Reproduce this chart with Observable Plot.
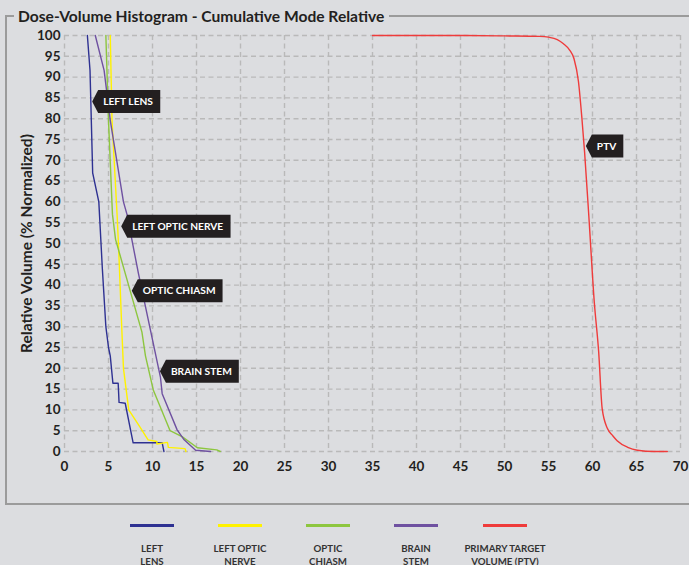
<!DOCTYPE html>
<html>
<head>
<meta charset="utf-8">
<script src="https://cdn.jsdelivr.net/npm/d3@7"></script>
<script src="https://cdn.jsdelivr.net/npm/@observablehq/plot@0.6"></script>
<style>
  html, body { margin: 0; padding: 0; background: #dcdde0; }
  #wrap { position: relative; width: 689px; height: 565px; overflow: hidden; background: #dcdde0; font-family: Lato, "Open Sans", sans-serif; color: #231f20; }
  #frame { position: absolute; left: 5px; top: 15px; width: 720px; height: 490px; border: 2px solid #9b9b9b; border-right: none; box-sizing: border-box; }
  #title { position: absolute; left: 14px; top: 6px; padding: 0 5px 0 4px; background: #dcdde0; font-weight: 700; font-size: 15.6px; line-height: 20px; white-space: nowrap; }
  #chart { position: absolute; left: 0; top: 0; }
  .lg { position: absolute; top: 524px; width: 120px; text-align: center; }
  .lg .sw { width: 44px; height: 3px; margin: 0 auto; }
  .lg .tx { margin-top: 15px; font-size: 9.7px; font-weight: 700; line-height: 12.5px; color: #333; }
</style>
</head>
<body>
<div id="wrap">
  <div id="frame"></div>
  <div id="chart"></div>
  <div id="title"></div>
</div>
<script>
const titleText = "Dose-Volume Histogram - Cumulative Mode Relative";
const yLabel = "Relative Volume (% Normalized)";
const xTicks = [0, 5, 10, 15, 20, 25, 30, 35, 40, 45, 50, 55, 60, 65, 70];
const yTicks = [0, 5, 10, 15, 20, 25, 30, 35, 40, 45, 50, 55, 60, 65, 70, 75, 80, 85, 90, 95, 100];

const seriesNames = ["LEFT LENS", "LEFT OPTIC NERVE", "OPTIC CHIASM", "BRAIN STEM", "PRIMARY TARGET VOLUME (PTV)"];
const legendLines = [["LEFT", "LENS"], ["LEFT OPTIC", "NERVE"], ["OPTIC", "CHIASM"], ["BRAIN", "STEM"], ["PRIMARY TARGET", "VOLUME (PTV)"]];
const seriesColors = ["#2e3192", "#fff200", "#8dc63f", "#6f51a1", "#ef3b3b"];

// [dose, volume] pairs
const leftLens = [[2.6,100],[2.9,91.6],[3.2,67],[3.9,60],[4.3,44],[4.7,30],[5.0,25],[5.2,23],[5.5,16.4],[6.1,16.4],[6.2,11.8],[6.9,11.6],[7.8,2.1],[11.1,2.1],[11.3,0]];
const leftOpticNerve = [[5.2,100],[5.4,79.6],[6.0,56],[6.2,46.4],[6.5,30],[6.7,20],[7.3,10],[8.6,5.8],[9.5,2.8],[10.5,2.4],[10.5,1.8],[11.7,2.2],[11.8,1.0],[13.7,0.7],[13.8,0]];
const opticChiasm = [[4.7,100],[5.0,79.6],[5.45,57],[5.8,51],[8.8,28.7],[9.2,23],[10.1,14.7],[12.0,5],[13.4,3.5],[15.1,0.9],[17.3,0.4],[17.7,0]];
const brainStem = [[3.5,100],[4.5,91.6],[5.2,79.6],[6.7,60],[7.1,57],[8.4,42.8],[10.9,17.9],[11.1,13.9],[12.8,5.2],[13.6,2.8],[14.9,0.3],[16.6,0]];
const ptv = [[35,100],[45,100],[50,99.9],[54,99.8],[55,99.6],[56,99],[56.7,98],[57.4,96.5],[57.9,94.4],[58.4,89],[58.8,80],[59.1,72],[59.6,56],[60.2,36],[60.7,24],[61.1,10.3],[61.7,5.5],[62.3,3.8],[62.8,2.6],[64,1],[65.1,0.3],[67,0],[68.5,0]];

// callout labels: text and the data point they point at
const calloutText = ["LEFT LENS", "LEFT OPTIC NERVE", "OPTIC CHIASM", "BRAIN STEM", "PTV"];
const calloutX = [3.2, 6.5, 7.7, 10.9, 59.3];
const calloutY = [84, 54, 38.5, 19.2, 73.3];

const allSeries = [leftLens, leftOpticNerve, opticChiasm, brainStem, ptv];

document.getElementById("title").textContent = titleText;

const ctx = document.createElement("canvas").getContext("2d");
const calloutFont = "bold 10.2px Lato";
ctx.font = calloutFont;

function callouts(index, scales) {
  const g = d3.create("svg:g").attr("text-anchor", "start");
  calloutText.forEach((t, i) => {
    const x0 = scales.x(calloutX[i]), y0 = scales.y(calloutY[i]);
    const a = 6, h = 23, tw = ctx.measureText(t).width;
    const w = tw + 12;
    g.append("path")
      .attr("d", `M${x0},${y0}l${a},${-h / 2}h${w}v${h}h${-w}z`)
      .attr("fill", "#231f20");
    g.append("text")
      .attr("x", x0 + a + 5)
      .attr("y", y0)
      .attr("dy", "0.35em")
      .attr("text-anchor", "start")
      .attr("fill", "#ffffff")
      .style("font", calloutFont)
      .text(t);
  });
  return g.node();
}

const lineMarks = allSeries.map((s, i) =>
  Plot.line(s, {
    x: d => d[0], y: d => d[1],
    stroke: seriesColors[i], strokeWidth: 1.4,
    curve: i === 4 ? "monotone-x" : "linear"
  })
);

const chart = Plot.plot({
  width: 689,
  height: 500,
  marginLeft: 64,
  marginRight: 9,
  marginTop: 35,
  marginBottom: 49,
  style: { background: "transparent", fontFamily: "Lato, sans-serif", fontWeight: 700, fontSize: "13.5px", color: "#231f20" },
  x: { domain: [0, 70], ticks: xTicks, tickSize: 0, tickPadding: 10, label: null, tickFormat: d => String(d) },
  y: { domain: [0, 100], ticks: yTicks, tickSize: 0, tickPadding: 4, label: null, tickFormat: d => String(d) },
  marks: [
    Plot.ruleX(xTicks, { stroke: "#b9b9b9", strokeWidth: 1.4, strokeDasharray: "5,3.5", strokeOpacity: 1 }),
    Plot.ruleY(yTicks, { stroke: "#b9b9b9", strokeWidth: 1.4, strokeDasharray: "5,3.5", strokeOpacity: 1 }),
    ...lineMarks,
    Plot.text([yLabel], { text: d => d, frameAnchor: "left", textAnchor: "middle", dx: -37, rotate: -90, fontSize: 15.5, fontWeight: 700, fill: "#231f20" }),
    callouts
  ]
});
document.getElementById("chart").appendChild(chart);

const wrap = document.getElementById("wrap");
const centers = [152, 240, 328, 416, 505];
legendLines.forEach((lines, i) => {
  const d = document.createElement("div");
  d.className = "lg";
  d.style.left = (centers[i] - 60) + "px";
  d.innerHTML = `<div class="sw" style="background:${seriesColors[i]}"></div><div class="tx">${lines[0]}<br>${lines[1]}</div>`;
  wrap.appendChild(d);
});
</script>
</body>
</html>
